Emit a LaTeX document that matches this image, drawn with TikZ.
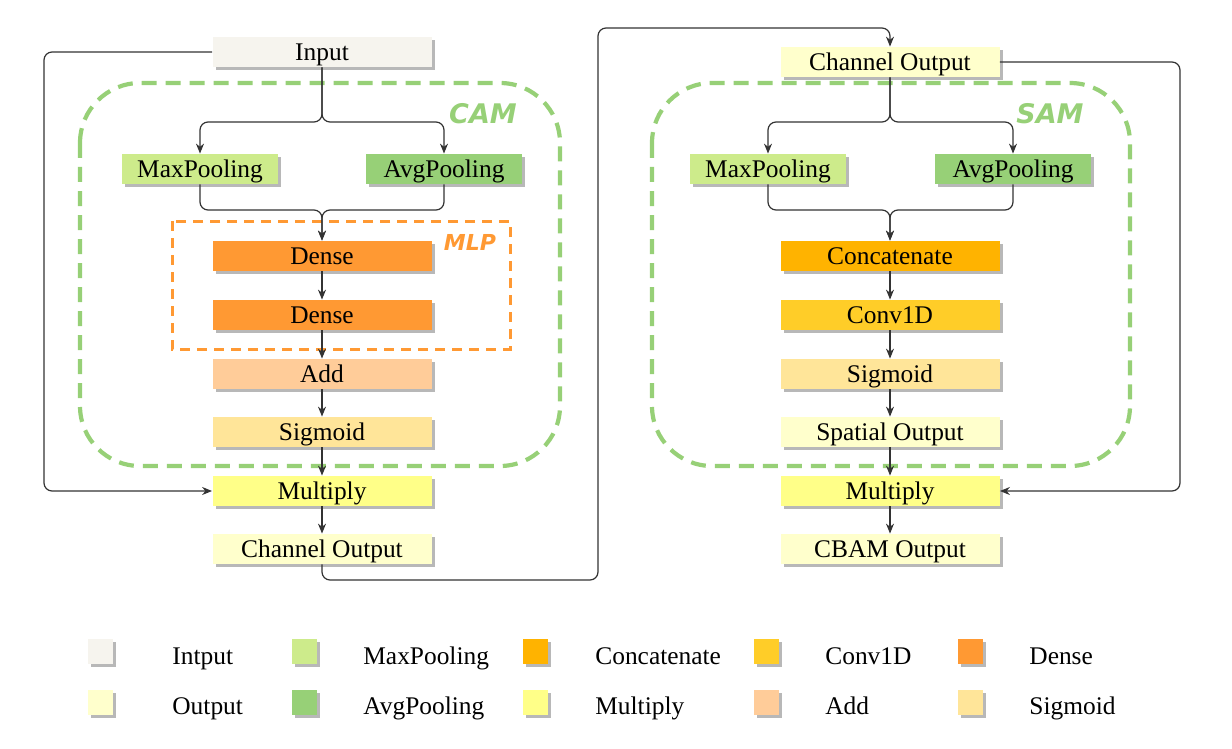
\documentclass[tikz,border=0pt]{standalone}
\usepackage{fontspec}
\setmainfont{Liberation Serif}
\newfontfamily\lblfont{DejaVu Sans}
\usetikzlibrary{arrows.meta,shadows}

\definecolor{cInput}{HTML}{F6F4EE}
\definecolor{cOutput}{HTML}{FFFFCC}
\definecolor{cMax}{HTML}{CDEB8B}
\definecolor{cAvg}{HTML}{97D077}
\definecolor{cConcat}{HTML}{FFB300}
\definecolor{cConv}{HTML}{FFCD28}
\definecolor{cDense}{HTML}{FF9933}
\definecolor{cAdd}{HTML}{FFCC99}
\definecolor{cSig}{HTML}{FFE599}
\definecolor{cMul}{HTML}{FFFF88}
\definecolor{cGreen}{HTML}{97D077}
\definecolor{cOrange}{HTML}{FF9933}
\definecolor{cLine}{HTML}{333333}

\begin{document}
\begin{tikzpicture}[x=0.5pt,y=-0.5pt,
  shad/.style={drop shadow={shadow xshift=1.5pt,shadow yshift=-1.5pt,fill=black!28,opacity=1}},
  box/.style={rectangle,draw=none,minimum width=109.5pt,minimum height=15pt,inner sep=0pt,
    text height=11pt,text depth=2.9pt,
    font=\fontsize{12.7}{14}\selectfont,shad},
  pool/.style={box,minimum width=78pt},
  swatch/.style={rectangle,draw=none,minimum width=12.5pt,minimum height=12.5pt,inner sep=0pt,shad},
  legtxt/.style={anchor=base west,inner sep=0pt,font=\fontsize{12.7}{14}\selectfont},
  arr/.style={draw=cLine,line width=0.6pt,-{Stealth[length=5pt,width=4pt]},rounded corners=4pt},
  modbox/.style={draw=cGreen,line width=2.1pt,dash pattern=on 7.5pt off 4.5pt,rounded corners=30pt},
  mlpbox/.style={draw=cOrange,line width=1.5pt,dash pattern=on 5pt off 3.5pt},
  modlbl/.style={font=\lblfont\bfseries\itshape\fontsize{13.5}{15}\selectfont,text=cGreen,inner sep=0pt}
]
\useasboundingbox (0,0) rectangle (1232,749);

% module frames
\draw[modbox] (80,83) rectangle (560,466);
\draw[modbox] (652,83) rectangle (1130,466);
\draw[mlpbox] (172,221) rectangle (510,349);
\node[modlbl] (camlbl) at (483,114) {CAM};
\node[modlbl] (samlbl) at (1050,114) {SAM};
\node[modlbl,text=cOrange,font=\lblfont\bfseries\itshape\fontsize{11}{12}\selectfont] (mlplbl) at (470,242) {MLP};

% left column (CAM)
\node[box,fill=cInput] (in) at (322,52) {Input};
\node[pool,fill=cMax] (mpL) at (200,169) {MaxPooling};
\node[pool,fill=cAvg] (apL) at (444,169) {AvgPooling};
\node[box,fill=cDense] (d1) at (322,256) {Dense};
\node[box,fill=cDense] (d2) at (322,315) {Dense};
\node[box,fill=cAdd] (add) at (322,374) {Add};
\node[box,fill=cSig] (sigL) at (322,432) {Sigmoid};
\node[box,fill=cMul] (mulL) at (322,491) {Multiply};
\node[box,fill=cOutput] (coL) at (322,549) {Channel Output};

% right column (SAM)
\node[box,fill=cOutput] (coR) at (890,62) {Channel Output};
\node[pool,fill=cMax] (mpR) at (768,169) {MaxPooling};
\node[pool,fill=cAvg] (apR) at (1013,169) {AvgPooling};
\node[box,fill=cConcat] (cat) at (890,256) {Concatenate};
\node[box,fill=cConv] (conv) at (890,315) {Conv1D};
\node[box,fill=cSig] (sigR) at (890,374) {Sigmoid};
\node[box,fill=cOutput] (spo) at (890,432) {Spatial Output};
\node[box,fill=cMul] (mulR) at (890,491) {Multiply};
\node[box,fill=cOutput] (cbam) at (890,549) {CBAM Output};

% helper coordinates
\coordinate (splitL) at (322,122);
\coordinate (mergeL) at (322,210);
\coordinate (splitR) at (890,122);
\coordinate (mergeR) at (890,210);
\coordinate (fbL) at (44,270);
\coordinate (fbR) at (1180,270);
\coordinate (lk1) at (598,580);
\coordinate (lk2) at (598,28);

% left connectors
\draw[arr] (in.south) -- (splitL) -| (mpL.north);
\draw[arr] (in.south) -- (splitL) -| (apL.north);
\draw[arr] (mpL.south) |- (mergeL) -- (d1.north);
\draw[arr] (apL.south) |- (mergeL) -- (d1.north);
\draw[arr] (d1) -- (d2);
\draw[arr] (d2) -- (add);
\draw[arr] (add) -- (sigL);
\draw[arr] (sigL) -- (mulL);
\draw[arr] (mulL) -- (coL);
\draw[arr] (in.west) -| (fbL) |- (mulL.west);
\draw[arr] (coL.south) |- (lk1) -- (lk2) -| (coR.north);

% right connectors
\draw[arr] (coR.south) -- (splitR) -| (mpR.north);
\draw[arr] (coR.south) -- (splitR) -| (apR.north);
\draw[arr] (mpR.south) |- (mergeR) -- (cat.north);
\draw[arr] (apR.south) |- (mergeR) -- (cat.north);
\draw[arr] (cat) -- (conv);
\draw[arr] (conv) -- (sigR);
\draw[arr] (sigR) -- (spo);
\draw[arr] (spo) -- (mulR);
\draw[arr] (mulR) -- (cbam);
\draw[arr] (coR.east) -| (fbR) |- (mulR.east);

% legend
\node[swatch,fill=cInput] (s1) at (100,651) {};
\node[legtxt] (t1) at (172,664) {Intput};
\node[swatch,fill=cMax] (s2) at (304,651) {};
\node[legtxt] (t2) at (363,664) {MaxPooling};
\node[swatch,fill=cConcat] (s3) at (535,651) {};
\node[legtxt] (t3) at (595,664) {Concatenate};
\node[swatch,fill=cConv] (s4) at (766,651) {};
\node[legtxt] (t4) at (825,664) {Conv1D};
\node[swatch,fill=cDense] (s5) at (970,651) {};
\node[legtxt] (t5) at (1029,664) {Dense};

\node[swatch,fill=cOutput] (s6) at (100,702) {};
\node[legtxt] (t6) at (172,714) {Output};
\node[swatch,fill=cAvg] (s7) at (304,702) {};
\node[legtxt] (t7) at (363,714) {AvgPooling};
\node[swatch,fill=cMul] (s8) at (535,702) {};
\node[legtxt] (t8) at (595,714) {Multiply};
\node[swatch,fill=cAdd] (s9) at (766,702) {};
\node[legtxt] (t9) at (825,714) {Add};
\node[swatch,fill=cSig] (s10) at (970,702) {};
\node[legtxt] (t10) at (1029,714) {Sigmoid};
\end{tikzpicture}
\end{document}
